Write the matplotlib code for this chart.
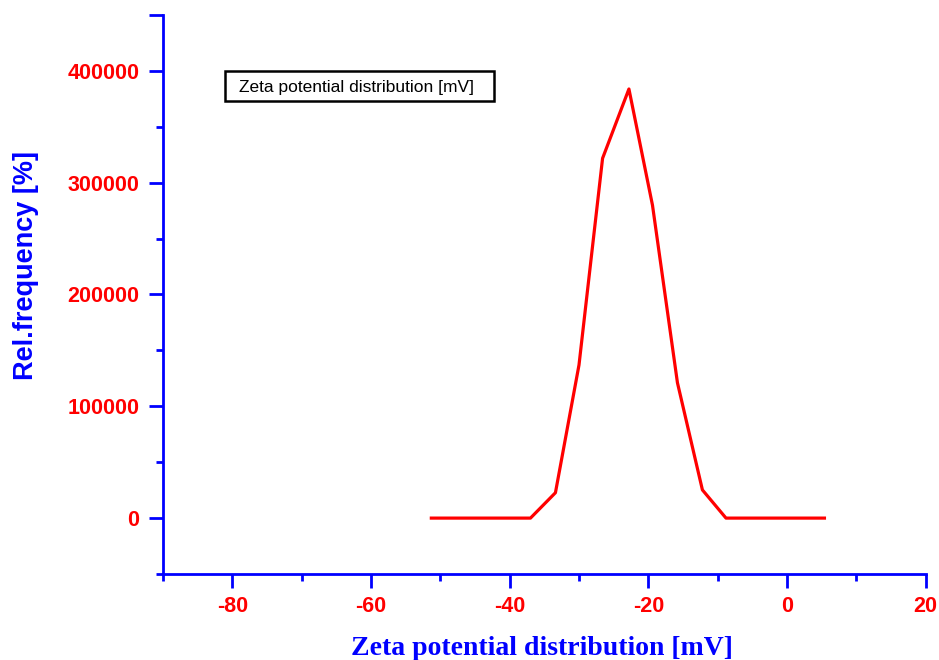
import matplotlib
matplotlib.use("Agg")
import matplotlib.pyplot as plt
from matplotlib.ticker import MultipleLocator
from matplotlib.patches import Rectangle

zeta_mv = [-51.3, -47.7, -44.2, -40.6, -37.0, -33.4, -30.0, -26.6, -22.8,
           -19.4, -15.8, -12.2, -8.8, -5.3, -1.7, 1.9, 5.4]
rel_freq = [0, 0, 0, 0, 0, 22700, 137000, 321800, 383800,
            279800, 121000, 25200, 0, 0, 0, 0, 0]
x_ticks = [-80, -60, -40, -20, 0, 20]
y_ticks = [0, 100000, 200000, 300000, 400000]

fig = plt.figure(figsize=(9.39, 6.6), dpi=100)
ax = fig.add_axes([0.1736, 0.1303, 0.8122, 0.8470])

ax.plot(zeta_mv, rel_freq, color="#ff0000", lw=2.3)
ax.set_xlim(-90, 20)
ax.set_ylim(-50000, 450000)

for s in ["top", "right"]:
    ax.spines[s].set_visible(False)
for s in ["left", "bottom"]:
    ax.spines[s].set_color("#0000ff")
    ax.spines[s].set_linewidth(2)

ax.set_xticks(x_ticks)
ax.set_xticklabels([str(v) for v in x_ticks])
ax.set_yticks(y_ticks + [450000])
ax.set_yticklabels([str(v) for v in y_ticks] + [""])
ax.xaxis.set_minor_locator(MultipleLocator(10))
ax.yaxis.set_minor_locator(MultipleLocator(50000))
ax.tick_params(which="major", length=10, width=2, color="#0000ff", direction="out")
ax.tick_params(which="minor", length=5, width=2, color="#0000ff", direction="out")
ax.tick_params(axis="x", which="major", labelcolor="#ff0000", pad=5.5)
ax.tick_params(axis="y", which="major", labelcolor="#ff0000", pad=7)
for lab in ax.get_xticklabels() + ax.get_yticklabels():
    lab.set_fontfamily("Liberation Sans")
    lab.set_fontweight("bold")
    lab.set_fontsize(15.5)

ax.set_xlabel("Zeta potential distribution [mV]", family="Liberation Serif",
              fontweight="bold", fontsize=20, color="#0000ff")
ax.xaxis.set_label_coords(0.497, -0.111)
ax.set_ylabel("Rel.frequency [%]", family="Liberation Sans",
              fontweight="bold", fontsize=19.5, color="#0000ff")
ax.yaxis.set_label_coords(-0.162, 0.551)

ax.add_patch(Rectangle((0.0813, 0.846), 0.3526, 0.0537, transform=ax.transAxes,
                       fc="white", ec="black", lw=1.8, clip_on=False, zorder=3))
ax.text(0.0996, 0.871, "Zeta potential distribution [mV]", transform=ax.transAxes,
        family="Liberation Sans", fontsize=12.5, color="black", va="center", ha="left",
        zorder=4)

fig.savefig("out.png", dpi=100)
